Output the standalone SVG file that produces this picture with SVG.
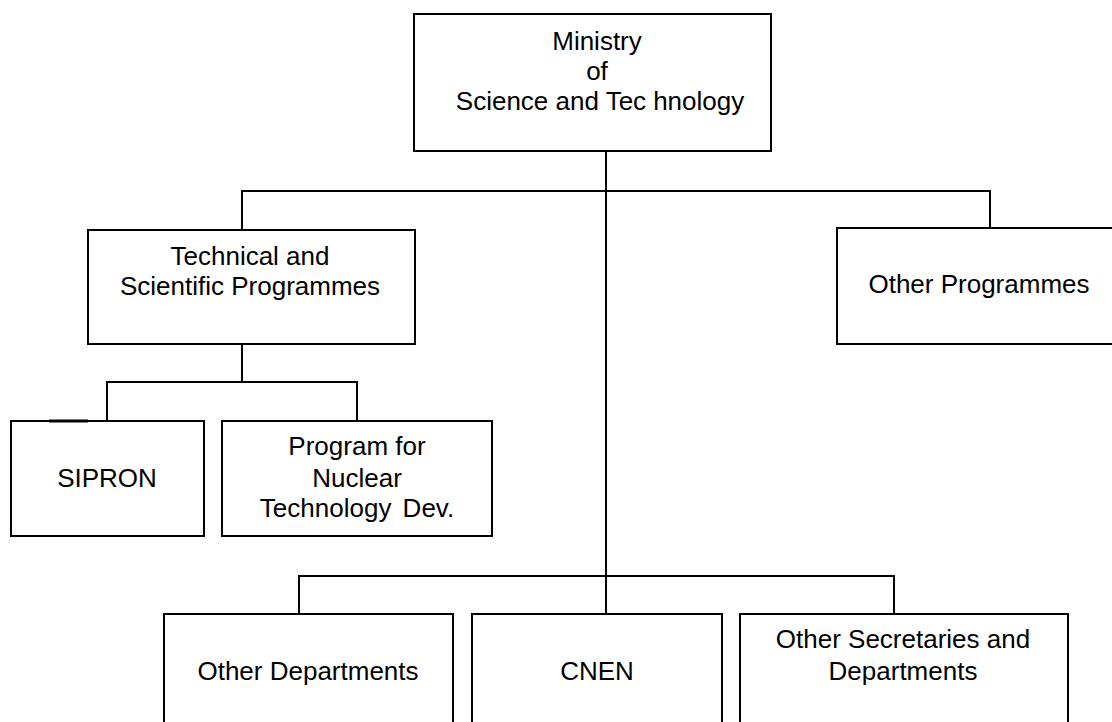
<svg xmlns="http://www.w3.org/2000/svg" width="1112" height="722" viewBox="0 0 1112 722">
<style>
.box{fill:#fff;stroke:#000;stroke-width:2}
.ln{fill:none;stroke:#000;stroke-width:2}
text{font-family:"Liberation Sans",Arial,sans-serif;font-size:26px;fill:#000;text-anchor:middle}
</style>
<rect width="1112" height="722" fill="#fff"/>
<g id="connectors">
<line class="ln" x1="606" y1="151" x2="606" y2="614"/>
<polyline class="ln" points="242,230 242,191 990,191 990,228"/>
<polyline class="ln" points="242,344 242,382"/>
<polyline class="ln" points="107,421 107,382 357,382 357,421"/>
<polyline class="ln" points="299,614 299,576 894,576 894,614"/>
</g>
<g id="ministry">
<rect class="box" x="414" y="14" width="357" height="137"/>
<text x="597" y="50">Ministry</text>
<text x="597" y="80">of</text>
<text x="600" y="110">Science and Tec<tspan dx="7">hnology</tspan></text>
</g>
<g id="technical">
<rect class="box" x="88" y="230" width="327" height="114"/>
<text x="250" y="265">Technical and</text>
<text x="250" y="295">Scientific Programmes</text>
</g>
<g id="other-programmes">
<rect class="box" x="837" y="228" width="280" height="116"/>
<text x="979" y="293">Other Programmes</text>
</g>
<g id="sipron">
<rect class="box" x="11" y="421" width="193" height="115"/>
<line x1="49" y1="421" x2="88" y2="421" stroke="#000" stroke-width="3"/>
<text x="107" y="487">SIPRON</text>
</g>
<g id="program-nuclear">
<rect class="box" x="222" y="421" width="270" height="115"/>
<text x="357" y="455">Program for</text>
<text x="357" y="487">Nuclear</text>
<text x="357" y="517">Technology <tspan dx="4">Dev.</tspan></text>
</g>
<g id="other-departments">
<rect class="box" x="164" y="614" width="289" height="120"/>
<text x="308" y="680">Other Departments</text>
</g>
<g id="cnen">
<rect class="box" x="472" y="614" width="250" height="120"/>
<text x="597" y="680">CNEN</text>
</g>
<g id="other-secretaries">
<rect class="box" x="740" y="614" width="328" height="120"/>
<text x="903" y="648">Other Secretaries and</text>
<text x="903" y="680">Departments</text>
</g>
</svg>
